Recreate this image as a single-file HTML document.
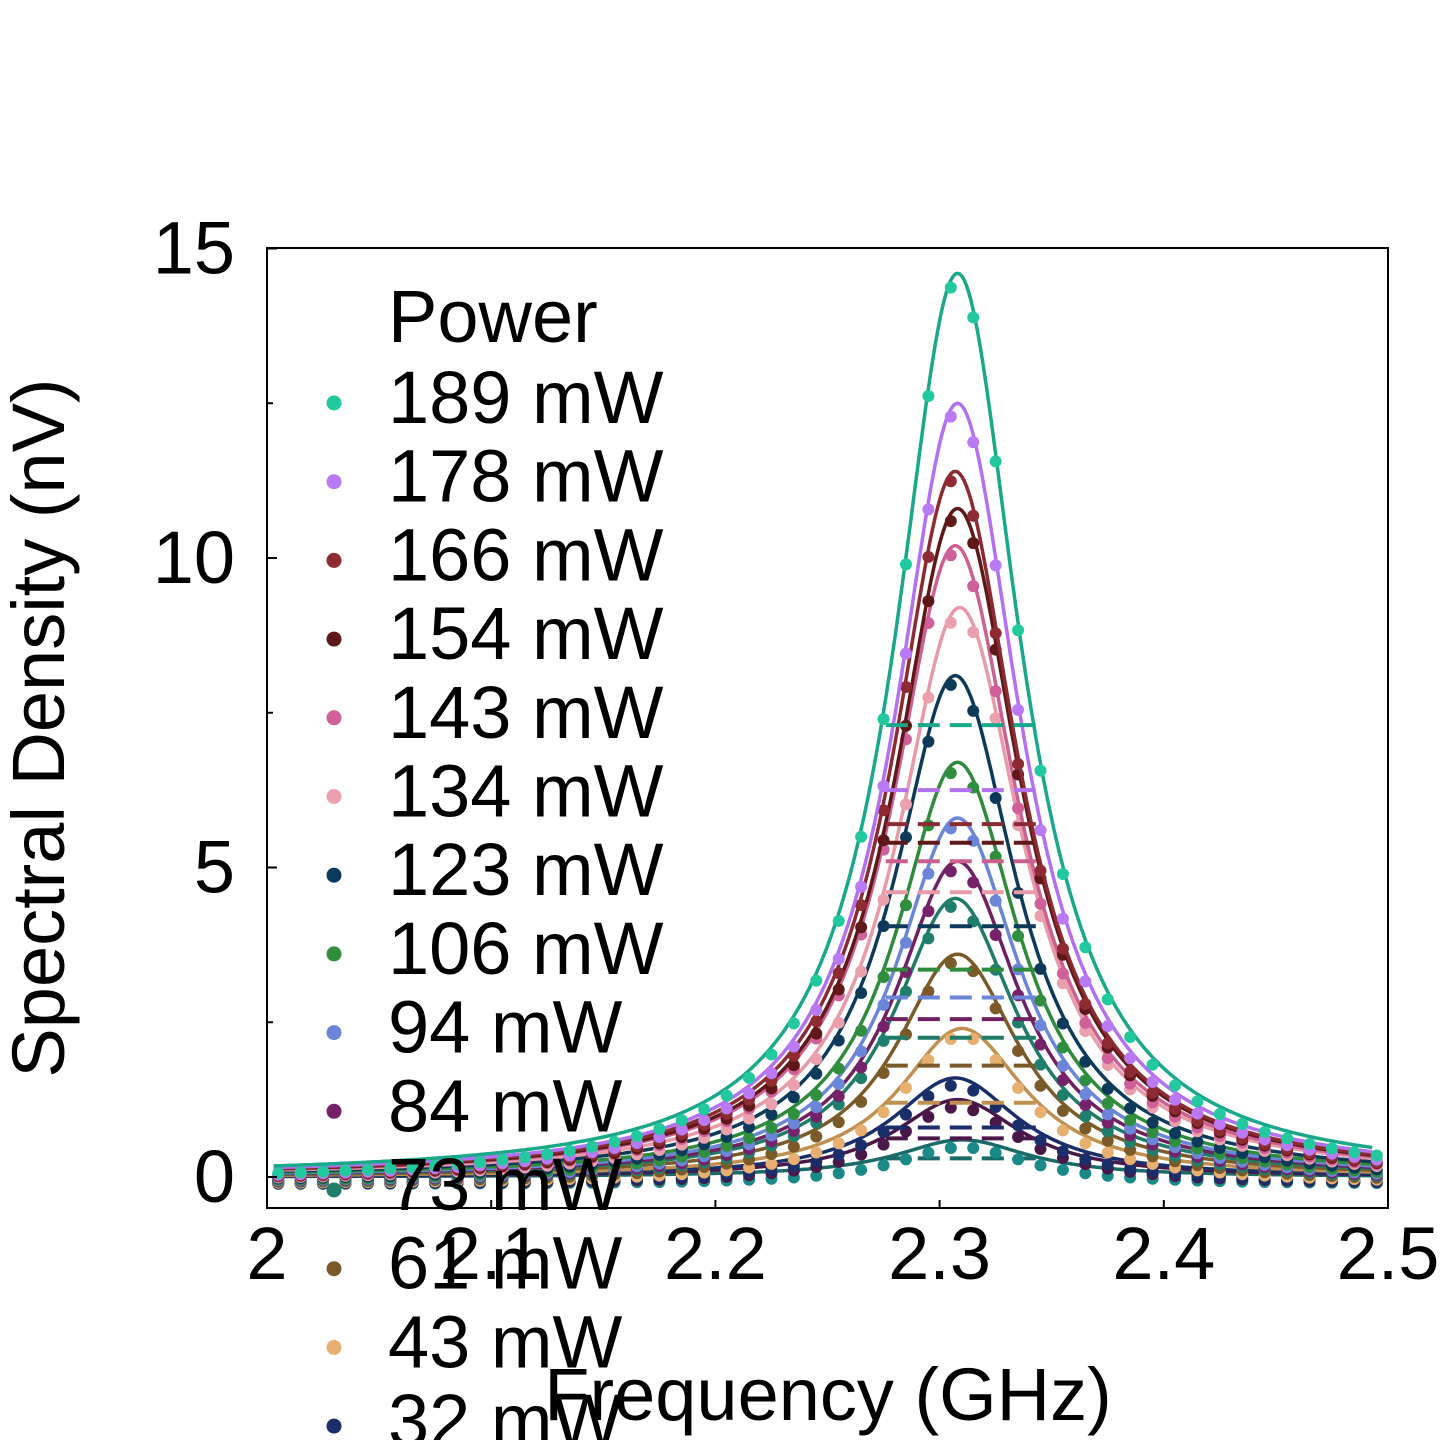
<!DOCTYPE html>
<html><head><meta charset="utf-8"><style>
html,body{margin:0;background:#fff;overflow:hidden;width:1440px;height:1440px;}
svg{display:block;}
svg text{font-family:"Liberation Sans",sans-serif;fill:#000;}
</style></head><body>
<svg id="chart" width="1440" height="1440" xmlns="http://www.w3.org/2000/svg">
<g id="plot"></g>
<rect x="267" y="248" width="1121" height="960" fill="none" stroke="#000" stroke-width="2"/>
<g id="axes"></g>
<text transform="translate(64,728) rotate(-90)" text-anchor="middle" font-size="74">Spectral Density (nV)</text>
<text x="828" y="1420" text-anchor="middle" font-size="74">Frequency (GHz)</text>
<g id="legend"></g>
</svg>
<script>
const powers=["189 mW","178 mW","166 mW","154 mW","143 mW","134 mW","123 mW","106 mW","94 mW","84 mW","73 mW","61 mW","43 mW","32 mW","21 mW","11 mW"];
const peaks=[14.6,12.5,11.4,10.8,10.2,9.2,8.1,6.7,5.8,5.1,4.5,3.6,2.4,1.6,1.25,0.6];
const centers=[2.308,2.308,2.307,2.308,2.307,2.309,2.307,2.308,2.308,2.308,2.307,2.308,2.31,2.307,2.308,2.31];
const widths=[0.034,0.034,0.034,0.034,0.034,0.034,0.033,0.033,0.033,0.033,0.033,0.033,0.034,0.034,0.034,0.036];
const lineColors=["#1aa88a","#b370f0","#8b2a32","#5e1818","#cc6090","#e89aa8","#0d3a5a","#2e8b3c","#6b86d8","#6e2060","#1f7a68","#7a5a28","#c09050","#1a2e6a","#4a1848","#1a6a68"];
const dotColors=["#22c99f","#bb7af5","#8e2a32","#5e1818","#d0609a","#eba0ae","#0d3a5a","#2f8f3e","#6b86d8","#76226a","#1f7f6c","#7a5a28","#e8b070","#1a2e6a","#4a1848","#1a8a88"];
const xTicks=[2,2.1,2.2,2.3,2.4,2.5];
const yTicks=[0,5,10,15];
const yMinor=[2.5,7.5,12.5];
const NS="http://www.w3.org/2000/svg";
const X=v=>267+(v-2)*2242, Y=v=>1177-v*61.9;
function mk(t,a,p){const e=document.createElementNS(NS,t);for(const k in a)e.setAttribute(k,a[k]);p.appendChild(e);return e;}
const plot=document.getElementById('plot'),axes=document.getElementById('axes'),leg=document.getElementById('legend');
const lor=(i,f)=>peaks[i]*widths[i]*widths[i]/((f-centers[i])**2+widths[i]*widths[i]);
for(let i=peaks.length-1;i>=0;i--){
  let d="";for(let f=2.003;f<=2.493;f+=0.001){d+=(d?"L":"M")+X(f).toFixed(1)+","+Y(lor(i,f)).toFixed(1);}
  const p=mk('path',{d:d,fill:"none",stroke:lineColors[i],"stroke-width":3.5},plot);
  
  
  const h=mk('line',{x1:X(2.276),x2:X(2.344),y1:Y(peaks[i]/2),y2:Y(peaks[i]/2),stroke:lineColors[i],"stroke-width":4,"stroke-dasharray":"22,10"},plot);
  
  
  for(let f=2.005;f<=2.495;f+=0.01){
    const c=mk('circle',{cx:X(f),cy:Y(lor(i,f)-0.12),r:6,fill:dotColors[i]},plot);
    
    
  }
}
xTicks.forEach(v=>{
  mk('line',{x1:X(v),x2:X(v),y1:1208,y2:1200,stroke:"#000","stroke-width":2},axes);
  const t=mk('text',{x:X(v),y:1279,"text-anchor":"middle","font-size":74},axes);t.textContent=v;
  
  
});
yTicks.forEach(v=>{
  mk('line',{x1:267,x2:277,y1:Y(v),y2:Y(v),stroke:"#000","stroke-width":2},axes);
  const t=mk('text',{x:235,y:Y(v)+25,"text-anchor":"end","font-size":74},axes);t.textContent=v;
  
  
});
yMinor.forEach(v=>mk('line',{x1:267,x2:273,y1:Y(v),y2:Y(v),stroke:"#000","stroke-width":2},axes));
const lt=mk('text',{x:388,y:342,"font-size":74},leg);lt.textContent="Power";


powers.forEach((p,i)=>{
  const y=403+i*78.7;
  const c=mk('circle',{cx:334,cy:y,r:7.5,fill:dotColors[i]},leg);
  
  
  const t=mk('text',{x:388,y:y+20,"font-size":74},leg);t.textContent=p;
  
  
});
</script>
</body></html>
